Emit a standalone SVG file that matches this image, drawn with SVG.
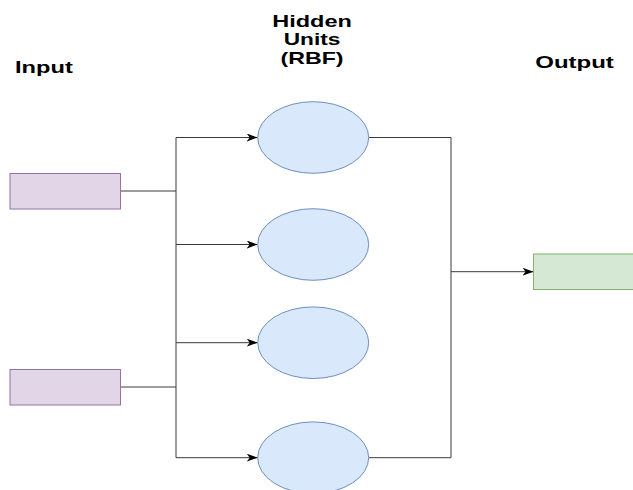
<svg xmlns="http://www.w3.org/2000/svg" width="633" height="490" viewBox="0 0 633 490">
  <style>
    .lbl { font-family: "Liberation Sans", Arial, sans-serif; font-size: 16px; font-weight: bold; fill: #000; }
    .in { fill: #e1d5e7; stroke: #9673a6; stroke-width: 1; }
    .hid { fill: #dae8fc; stroke: #6c8ebf; stroke-width: 1; }
    .out { fill: #d5e8d4; stroke: #82b366; stroke-width: 1; }
    .wire { fill: none; stroke: #3a3a3a; stroke-width: 1; }
  </style>
  <defs>
    <marker id="arrow" viewBox="0 0 11 8" refX="11" refY="4" markerWidth="11" markerHeight="8" markerUnits="userSpaceOnUse" orient="auto">
      <path d="M0,0 L11,4 L0,8 L3,4 Z" fill="#000"/>
    </marker>
  </defs>
  <rect width="633" height="490" fill="#fff"/>

  <!-- column headings -->
  <g id="labels">
    <text class="lbl" transform="translate(15,72.7) scale(1.48,1)">Input</text>
    <g text-anchor="middle">
      <text class="lbl" transform="translate(312,26.6) scale(1.47,1)">Hidden</text>
      <text class="lbl" transform="translate(312,45.2) scale(1.42,1)">Units</text>
      <text class="lbl" transform="translate(312,64) scale(1.45,1)">(RBF)</text>
      <text class="lbl" transform="translate(574.5,67.7) scale(1.5,1)">Output</text>
    </g>
  </g>

  <!-- connectors -->
  <g id="connectors">
    <path class="wire" d="M120.5,191 H176"/>
    <path class="wire" d="M120.5,387 H176"/>
    <path class="wire" d="M176,137.5 V457.7"/>
    <path class="wire" d="M176,137.5 H257.7" marker-end="url(#arrow)"/>
    <path class="wire" d="M176,244.5 H257.7" marker-end="url(#arrow)"/>
    <path class="wire" d="M176,342.7 H257.7" marker-end="url(#arrow)"/>
    <path class="wire" d="M176,457.7 H257.7" marker-end="url(#arrow)"/>
    <path class="wire" d="M368.7,137.5 H451 V457.7 H368.7"/>
    <path class="wire" d="M451,271.7 H533.5" marker-end="url(#arrow)"/>
  </g>

  <!-- input nodes -->
  <g id="input1"><rect class="in" x="10" y="173.5" width="110.5" height="35.5"/></g>
  <g id="input2"><rect class="in" x="10" y="369.5" width="110.5" height="35.5"/></g>

  <!-- hidden RBF units -->
  <g id="hidden1"><ellipse class="hid" cx="313.2" cy="137.5" rx="55.5" ry="35.8"/></g>
  <g id="hidden2"><ellipse class="hid" cx="313.2" cy="244.5" rx="55.5" ry="35.8"/></g>
  <g id="hidden3"><ellipse class="hid" cx="313.2" cy="342.7" rx="55.5" ry="35.8"/></g>
  <g id="hidden4"><ellipse class="hid" cx="313.2" cy="457.7" rx="55.5" ry="35.8"/></g>

  <!-- output node -->
  <g id="output"><rect class="out" x="533.5" y="254" width="110" height="35.5"/></g>
</svg>
